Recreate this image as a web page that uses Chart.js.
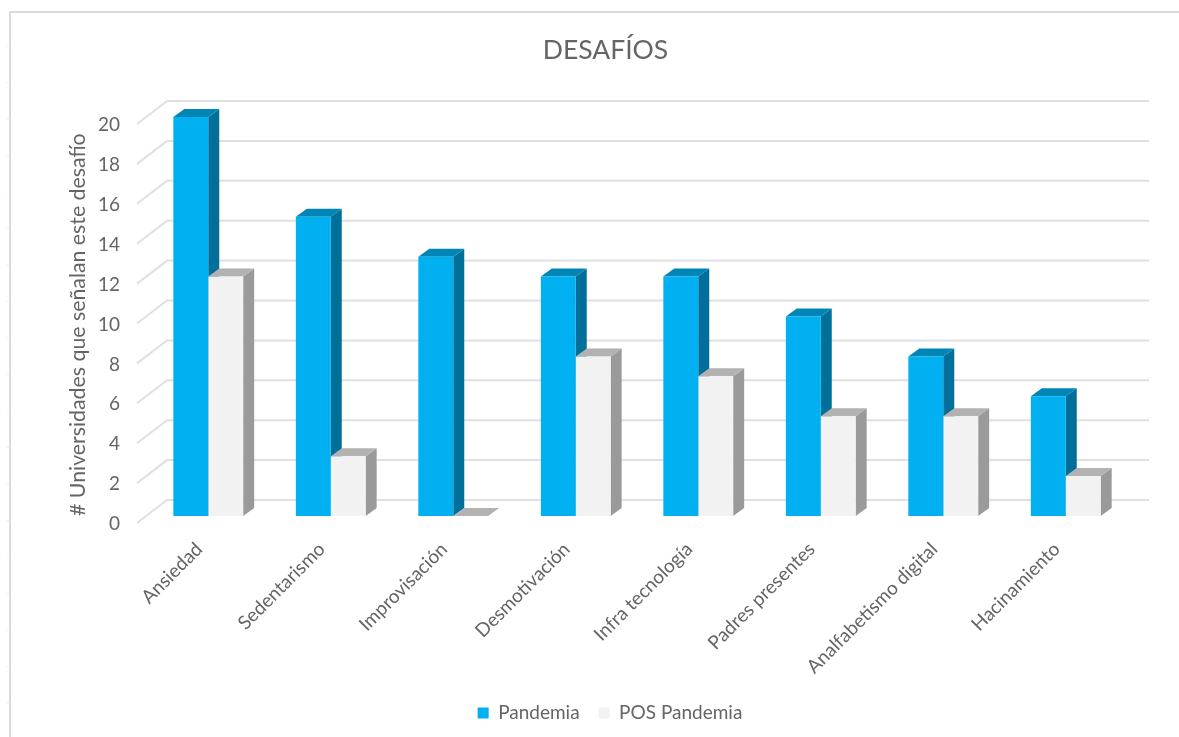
<!DOCTYPE html>
<html>
<head>
<meta charset="utf-8">
<script src="https://cdn.jsdelivr.net/npm/chart.js@4"></script>
<style>
html, body { margin: 0; padding: 0; background: #fff; }
#wrap { width: 1179px; height: 737px; }
</style>
</head>
<body>
<div id="wrap"><canvas id="desafios" width="1179" height="737"></canvas></div>
<script>
const categories = ['Ansiedad', 'Sedentarismo', 'Improvisación', 'Desmotivación', 'Infra tecnología', 'Padres presentes', 'Analfabetismo digital', 'Hacinamiento'];
const pandemia = [20, 15, 13, 12, 12, 10, 8, 6];
const posPandemia = [12, 3, 0, 8, 7, 5, 5, 2];
const seriesColors = ['#00B0F0', '#F2F2F2'];
const sideColors = ['#006F9A', '#9A9A9A'];
const topColors = ['#0085B5', '#B2B2B2'];
const textColor = '#656565';
const fontName = 'Lato, "Open Sans", sans-serif';

// sheet border left over from the screenshot
const framePlugin = {
  id: 'frame',
  beforeDraw(chart) {
    const c = chart.ctx;
    c.save();
    c.strokeStyle = '#DADADA';
    c.lineWidth = 2;
    c.beginPath();
    c.moveTo(1179, 12);
    c.lineTo(10, 12);
    c.lineTo(10, 737);
    c.stroke();
    c.strokeStyle = '#E6E6E6';
    c.lineWidth = 1;
    for (let y = 46; y < 737; y += 36.5) {
      c.beginPath();
      c.moveTo(7, y);
      c.lineTo(10, y);
      c.stroke();
    }
    c.restore();
  }
};

// gridlines on the walls and the side/top faces of the bars
const depthPlugin = {
  id: 'depth',
  afterLayout(chart) {
    chart.titleBlock.left = 84;
    chart.legend.left = 93;
    chart.legend.top = 713 - 28.5;
  },
  beforeDatasetsDraw(chart) {
    const c = chart.ctx;
    const yScale = chart.scales.y;
    c.save();
    c.strokeStyle = '#E0E0E0';
    c.lineWidth = 2;
    yScale.ticks.forEach(t => {
      const py = yScale.getPixelForValue(t.value);
      c.beginPath();
      c.moveTo(137, py + 7);
      c.lineTo(167, py - 16);
      c.lineTo(1149, py - 16);
      c.stroke();
    });
    const dx = 11, dy = 8;
    chart.data.datasets.forEach((ds, i) => {
      chart.getDatasetMeta(i).data.forEach(bar => {
        const l = bar.x - bar.width / 2, r = bar.x + bar.width / 2;
        c.fillStyle = sideColors[i];
        c.beginPath();
        c.moveTo(r, bar.y);
        c.lineTo(r + dx, bar.y - dy);
        c.lineTo(r + dx, bar.base - dy);
        c.lineTo(r, bar.base);
        c.closePath();
        c.fill();
        c.fillStyle = topColors[i];
        c.beginPath();
        c.moveTo(l, bar.y);
        c.lineTo(l + dx, bar.y - dy);
        c.lineTo(r + dx, bar.y - dy);
        c.lineTo(r, bar.y);
        c.closePath();
        c.fill();
      });
    });
    c.restore();
  }
};

new Chart(document.getElementById('desafios'), {
  type: 'bar',
  data: {
    labels: categories,
    datasets: [
      { label: 'Pandemia', data: pandemia, backgroundColor: seriesColors[0] },
      { label: 'POS Pandemia', data: posPandemia, backgroundColor: seriesColors[1] }
    ]
  },
  options: {
    responsive: false,
    animation: false,
    layout: { padding: { left: 65, right: 52, top: 0, bottom: 0 } },
    datasets: { bar: { categoryPercentage: 0.57, barPercentage: 1 } },
    plugins: {
      title: {
        display: true,
        text: 'DESAFÍOS',
        color: textColor,
        font: { family: fontName, size: 26.5, weight: 'normal' },
        padding: { top: 35, bottom: 50.2 }
      },
      legend: {
        position: 'bottom',
        labels: { color: textColor, font: { family: fontName, size: 19 }, boxWidth: 11, boxHeight: 11, padding: 19 }
      },
      tooltip: { enabled: false }
    },
    scales: {
      x: {
        grid: { display: false },
        border: { display: false },
        ticks: { color: textColor, font: { family: fontName, size: 19 }, minRotation: 45, maxRotation: 45, padding: 14, labelOffset: -9 },
        afterFit(s) { s.height = 173; }
      },
      y: {
        min: 0,
        max: 20,
        grid: { display: false },
        border: { display: false },
        title: {
          display: true,
          text: '# Universidades que señalan este desafío',
          align: 'start',
          color: textColor,
          font: { family: fontName, size: 21.3 },
          padding: 0
        },
        ticks: { stepSize: 2, color: textColor, font: { family: fontName, size: 19 }, padding: 19, labelOffset: 8 },
        afterFit(s) { s.width = 82; }
      }
    }
  },
  plugins: [framePlugin, depthPlugin]
});
</script>
</body>
</html>
